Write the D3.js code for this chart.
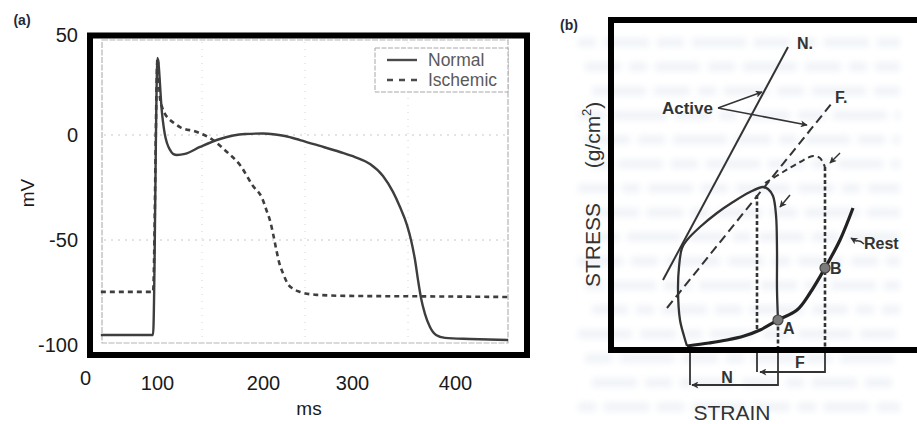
<!DOCTYPE html>
<html>
<head>
<meta charset="utf-8">
<script src="https://cdn.jsdelivr.net/npm/d3@7"></script>
<style>
  html, body { margin: 0; padding: 0; background: #fff; }
  svg { display: block; font-family: "Liberation Sans", Arial, sans-serif; }
</style>
</head>
<body>
<svg id="fig" width="917" height="424"></svg>
<script>
// ---------- Panel (a): membrane potential vs time ----------
const timeTicks = [0, 100, 200, 300, 400];
const voltTicks = [50, 0, -50, -100];
const gridTimes = [100, 200, 300];      // faint grid of the underlying trace plot
const gridVolts = [0, -50];

const normalTime = [22, 94.5, 100.5, 104.7, 107.5, 109.4, 112.3, 115.1, 118.9, 126.4, 140.6, 159.4, 183, 200, 224.7, 241.6, 264, 286.5, 302.9, 317.5, 330.1, 339.8, 346.6, 353.4, 357.3, 361.2, 364.1, 367, 370.9, 375.7, 381.6, 390.3, 414.6, 451.5];
const normalVolt = [-95, -95, 38.7, 11.1, 0, -3.8, -7.1, -9, -9.5, -9, -5.7, -1.9, 0.5, 0.75, -0.5, -2.4, -5.2, -8.1, -10.5, -13.8, -19.5, -27.1, -34.3, -42.9, -50, -59.5, -69, -77.5, -85.1, -91.2, -95, -96.4, -96.9, -97.4];

const ischemicTime = [22, 94.5, 100.5, 102.8, 104.7, 107.5, 110.4, 116, 121.7, 137.7, 152.8, 166, 178.3, 190.6, 199.1, 203.8, 208.3, 211.6, 215, 218.3, 222.8, 227.3, 234, 241.6, 260.7, 297.8, 366, 451.5];
const ischemicVolt = [-74.6, -74.6, 38.7, 18.6, 14.1, 10.6, 8.5, 6.0, 4.0, 1.5, -2.4, -8.1, -14.3, -24.3, -30, -35.7, -41.4, -47.6, -54.7, -60.9, -66.1, -70.4, -73.2, -74.6, -76, -76.5, -76.7, -77];

const legendLabels = ["Normal", "Ischemic"];

// ---------- Panel (b): stress-strain loops (arbitrary units) ----------
const activeNStrain = [4.9, 17.4],  activeNStress = [6.7, 30.0];
const activeFStrain = [5.3, 21.8],  activeFStress = [3.9, 24.4];
const restStrain = [7.3, 9.5, 11.3, 13.0, 14.6, 16.4, 18.3, 19.6, 21.1, 22.6, 23.9];
const restStress = [0.1, 0.4, 0.7, 1.1, 1.7, 2.7, 3.7, 5.4, 7.9, 10.7, 13.9];
const loopStrain = [16.4, 16.3, 16.3, 16.2, 15.9, 15.4, 14.9, 13.6, 11.9, 10.3, 8.6, 7.3, 6.8, 6.5, 6.4, 6.6, 7.0, 7.3];
const loopStress = [2.7, 5.7, 9.7, 13.2, 15.1, 15.8, 16.0, 15.5, 14.5, 13.4, 12.0, 10.7, 9.9, 8.0, 5.7, 2.7, 1.1, 0.1];
const capStrain = [15.1, 16.9, 18.6, 19.9, 20.6, 20.9, 21.1];
const capStress = [16.4, 17.5, 18.5, 19.1, 18.9, 18.4, 18.0];
const pointNames = ["A", "B"];
const pointStrain = [16.4, 21.1];
const pointStress = [2.7, 7.9];
const peakStrain = 14.3, peakStress = 15.2;   // end-systolic point of the normal loop
const bracketF = -2.5, bracketN = -3.8;       // levels of the shortening brackets

const svg = d3.select("#fig");
const ink = "#333";

const defs = svg.append("defs");
defs.append("filter").attr("id", "soft").attr("x", "-5%").attr("y", "-5%").attr("width", "110%").attr("height", "110%")
  .append("feGaussianBlur").attr("stdDeviation", 3);

// faint show-through of printed text behind panel (b)
const ghost = svg.append("g").attr("filter", "url(#soft)").attr("fill", "#f0f3f7");
d3.range(16).forEach(r => {
  let x = 578 + (r % 3) * 7;
  let k = 0;
  while (x < 900) {
    const w = 18 + ((r * 7 + k * 13) % 5) * 9;
    ghost.append("rect").attr("x", x).attr("y", 38 + r * 24.3).attr("width", Math.min(w, 900 - x)).attr("height", 9);
    x += w + 8;
    k++;
  }
});

// ======================= Panel (a) =======================
const xA = d3.scaleLinear().domain(timeTicks).range([85, 157, 263, 352, 455]);
const yA = d3.scaleLinear().domain([-100, -50, 0, 50]).range([345.5, 240, 135, 35.5]);
const xInner = d3.scaleLinear().domain([0, 400]).range([99, 511]);

const gA = svg.append("g");

// underlying plot box and faint grid
gA.append("rect").attr("x", 102).attr("y", 40).attr("width", 406).attr("height", 303)
  .attr("fill", "none").attr("stroke", "#b5b5b5").attr("stroke-width", 1.2).attr("stroke-dasharray", "6,1.5");
gA.selectAll(".gx").data(gridTimes).join("line")
  .attr("x1", d => xInner(d)).attr("x2", d => xInner(d)).attr("y1", 42).attr("y2", 341)
  .attr("stroke", "#d4d4d4").attr("stroke-width", 1).attr("stroke-dasharray", "1,6");
gA.selectAll(".gy").data(gridVolts).join("line")
  .attr("x1", 104).attr("x2", 506).attr("y1", d => yA(d)).attr("y2", d => yA(d))
  .attr("stroke", "#c8c8c8").attr("stroke-width", 1).attr("stroke-dasharray", "2,5");

const lineA = d3.line().x(d => xA(d[0])).y(d => yA(d[1])).curve(d3.curveMonotoneX);
gA.append("path").datum(d3.zip(ischemicTime, ischemicVolt))
  .attr("d", lineA).attr("fill", "none").attr("stroke", "#3e3e3e")
  .attr("stroke-width", 2.6).attr("stroke-dasharray", "5,4");
gA.append("path").datum(d3.zip(normalTime, normalVolt))
  .attr("d", lineA).attr("fill", "none").attr("stroke", "#3e3e3e")
  .attr("stroke-width", 2.4).attr("stroke-linejoin", "round");

// legend
const leg = gA.append("g");
leg.append("rect").attr("x", 375).attr("y", 48).attr("width", 133).attr("height", 44)
  .attr("fill", "#fff").attr("stroke", "#a8a8a8").attr("stroke-width", 1).attr("stroke-dasharray", "5,1.5");
legendLabels.forEach((lab, i) => {
  const y = 60 + i * 20;
  leg.append("line").attr("x1", 387).attr("x2", 417).attr("y1", y).attr("y2", y)
    .attr("stroke", "#4a4a4a").attr("stroke-width", 2.4)
    .attr("stroke-dasharray", i ? "6,6" : null);
  leg.append("text").attr("x", 428).attr("y", y).attr("dy", "0.35em")
    .attr("font-size", 17.5).attr("fill", "#5a5a5a").text(lab);
});

// heavy frame
gA.append("rect").attr("x", 90).attr("y", 35.5).attr("width", 437).attr("height", 319.5)
  .attr("fill", "none").attr("stroke", "#000").attr("stroke-width", 6);

// axes
const axL = gA.append("g").attr("transform", "translate(87,0)")
  .call(d3.axisLeft(yA).tickValues(voltTicks).tickFormat(d => String(d)).tickSize(0).tickPadding(9));
const axB = gA.append("g").attr("transform", "translate(0,358)")
  .call(d3.axisBottom(xA).tickValues(timeTicks).tickFormat(d => String(d)).tickSize(0).tickPadding(18));
[axL, axB].forEach(ax => {
  ax.select(".domain").remove();
  ax.selectAll("text").attr("font-size", 20).attr("fill", "#1a1a1a")
    .attr("font-family", "'Liberation Sans', Arial, sans-serif");
});
axB.selectAll(".tick").filter(d => d === 0).select("text").attr("y", 13);

gA.append("text").attr("transform", "translate(27,193) rotate(-90)")
  .attr("text-anchor", "middle").attr("dy", "0.35em").attr("font-size", 19).attr("fill", "#1a1a1a").text("mV");
gA.append("text").attr("x", 309).attr("y", 408).attr("text-anchor", "middle").attr("dy", "0.35em")
  .attr("font-size", 19).attr("fill", "#1a1a1a").text("ms");
gA.append("text").attr("x", 22).attr("y", 20).attr("text-anchor", "middle").attr("dy", "0.35em")
  .attr("font-size", 14).attr("font-weight", "bold").attr("fill", "#1f2a3a").text("(a)");

// ======================= Panel (b) =======================
const xB = d3.scaleLinear().domain([0, 30]).range([614, 914]);
const yB = d3.scaleLinear().domain([0, 32]).range([347, 27]);
const gB = svg.append("g");

defs.append("marker").attr("id", "head").attr("viewBox", "0 0 10 10")
  .attr("refX", 9).attr("refY", 5).attr("markerWidth", 9).attr("markerHeight", 7)
  .attr("markerUnits", "userSpaceOnUse").attr("orient", "auto")
  .append("path").attr("d", "M0,0L10,5L0,10L2.5,5z").attr("fill", ink);

const lineB = d3.line().x(d => xB(d[0])).y(d => yB(d[1]));
const smoothB = d3.line().x(d => xB(d[0])).y(d => yB(d[1])).curve(d3.curveCatmullRom.alpha(0.5));

// active lines
gB.append("path").datum(d3.zip(activeNStrain, activeNStress)).attr("d", lineB)
  .attr("stroke", ink).attr("stroke-width", 2).attr("fill", "none");
gB.append("path").datum(d3.zip(activeFStrain, activeFStress)).attr("d", lineB)
  .attr("stroke", ink).attr("stroke-width", 2).attr("fill", "none").attr("stroke-dasharray", "9,5");

// normal loop
gB.append("path").datum(d3.zip(loopStrain, loopStress)).attr("d", smoothB)
  .attr("stroke", ink).attr("stroke-width", 2.3).attr("fill", "none");
// failing (ischemic) loop cap
gB.append("path").datum(d3.zip(capStrain, capStress)).attr("d", smoothB)
  .attr("stroke", ink).attr("stroke-width", 2).attr("fill", "none").attr("stroke-dasharray", "6,4");

// dotted drop lines
const drops = [
  [peakStrain, peakStress, 1.7],
  [pointStrain[0], pointStress[0], 0],
  [capStrain[capStrain.length - 1], capStress[capStress.length - 1], 0]
];
gB.selectAll(".drop").data(drops).join("line")
  .attr("x1", d => xB(d[0])).attr("x2", d => xB(d[0]))
  .attr("y1", d => yB(d[1])).attr("y2", d => yB(d[2]))
  .attr("stroke", ink).attr("stroke-width", 2.6).attr("stroke-dasharray", "4,2.5");

// resting curve
gB.append("path").datum(d3.zip(restStrain, restStress)).attr("d", smoothB)
  .attr("stroke", "#222").attr("stroke-width", 3.2).attr("fill", "none");

// points A and B
gB.selectAll(".pt").data(d3.zip(pointStrain, pointStress)).join("circle")
  .attr("cx", d => xB(d[0])).attr("cy", d => yB(d[1])).attr("r", 5)
  .attr("fill", "#7a7a7a").attr("stroke", "#444").attr("stroke-width", 1.2);

// Active labels and arrows
const activeOrigin = [10.4, 23.9];
gB.append("text").attr("x", xB(activeOrigin[0]) - 5).attr("y", yB(activeOrigin[1])).attr("dy", "0.35em")
  .attr("text-anchor", "end").attr("font-size", 17).attr("font-weight", "bold").attr("fill", ink).text("Active");
[[14.8, 25.5], [19.3, 22.2]].forEach(t => {
  gB.append("path").datum([activeOrigin, t]).attr("d", lineB)
    .attr("stroke", ink).attr("stroke-width", 1.6).attr("fill", "none").attr("marker-end", "url(#head)");
});
// small arrows onto the loops
[[[17.6, 15.2], [16.6, 14.0]], [[22.6, 19.4], [21.6, 18.4]]].forEach(seg => {
  gB.append("path").datum(seg).attr("d", lineB)
    .attr("stroke", ink).attr("stroke-width", 1.5).attr("fill", "none").attr("marker-end", "url(#head)");
});

// line labels
gB.append("text").attr("x", xB(18.3)).attr("y", yB(30.4)).attr("dy", "0.35em")
  .attr("font-size", 16).attr("font-weight", "bold").attr("fill", ink).text("N.");
gB.append("text").attr("x", xB(22.1)).attr("y", yB(25.0)).attr("dy", "0.35em")
  .attr("font-size", 16).attr("font-weight", "bold").attr("fill", ink).text("F.");
pointNames.forEach((n, i) => {
  gB.append("text").attr("x", xB(pointStrain[i]) + 5).attr("y", yB(pointStress[i]) + (i ? 0 : 8)).attr("dy", "0.35em")
    .attr("font-size", 16).attr("font-weight", "bold").attr("fill", ink).text(n);
});

// Rest label with hooked arrow
gB.append("path").attr("d", `M${xB(25)},${yB(10.3)} q-4,-4 -8,-3 l-5,-3`)
  .attr("stroke", ink).attr("stroke-width", 1.4).attr("fill", "none").attr("marker-end", "url(#head)");
gB.append("text").attr("x", xB(25.0)).attr("y", yB(10.4)).attr("dy", "0.35em")
  .attr("font-size", 16).attr("font-weight", "bold").attr("fill", ink).text("Rest");

// shortening brackets below the frame
const solid = (pts, arrow) => gB.append("path").datum(pts).attr("d", lineB)
  .attr("stroke", ink).attr("stroke-width", 1.8).attr("fill", "none")
  .attr("marker-end", arrow ? "url(#head)" : null);
solid([[peakStrain, -0.4], [peakStrain, bracketF]]);
solid([[21.1, -0.4], [21.1, bracketF], [14.6, bracketF]], true);
solid([[7.6, -0.3], [7.6, bracketN]]);
solid([[16.4, -0.4], [16.4, bracketN], [7.8, bracketN]], true);
gB.append("text").attr("x", xB(18.6)).attr("y", yB(-1.5)).attr("dy", "0.35em").attr("text-anchor", "middle")
  .attr("font-size", 16).attr("font-weight", "bold").attr("fill", ink).text("F");
gB.append("text").attr("x", xB(11.3)).attr("y", yB(-3.0)).attr("dy", "0.35em").attr("text-anchor", "middle")
  .attr("font-size", 16).attr("font-weight", "bold").attr("fill", ink).text("N");

// frame
gB.append("rect").attr("x", 611).attr("y", 20).attr("width", 330).attr("height", 330)
  .attr("fill", "none").attr("stroke", "#000").attr("stroke-width", 6);

// axis titles
gB.append("text").attr("x", xB(11.8)).attr("y", 413).attr("text-anchor", "middle").attr("dy", "0.35em")
  .attr("font-size", 21).attr("fill", ink).text("STRAIN");
gB.append("text").attr("transform", "translate(593,245) rotate(-90)").attr("text-anchor", "middle").attr("dy", "0.35em")
  .attr("font-size", 21).attr("fill", ink).text("STRESS");
const unit = gB.append("text").attr("transform", "translate(593,135) rotate(-90)").attr("text-anchor", "middle")
  .attr("dy", "0.35em").attr("font-size", 21).attr("fill", ink);
unit.append("tspan").text("(g/cm");
unit.append("tspan").attr("font-size", 13).attr("dy", "-0.7em").text("2");
unit.append("tspan").attr("dy", "0.45em").text(")");

gB.append("text").attr("x", 569).attr("y", 25).attr("text-anchor", "middle").attr("dy", "0.35em")
  .attr("font-size", 14).attr("font-weight", "bold").attr("fill", "#1f2a3a").text("(b)");
</script>
</body>
</html>
